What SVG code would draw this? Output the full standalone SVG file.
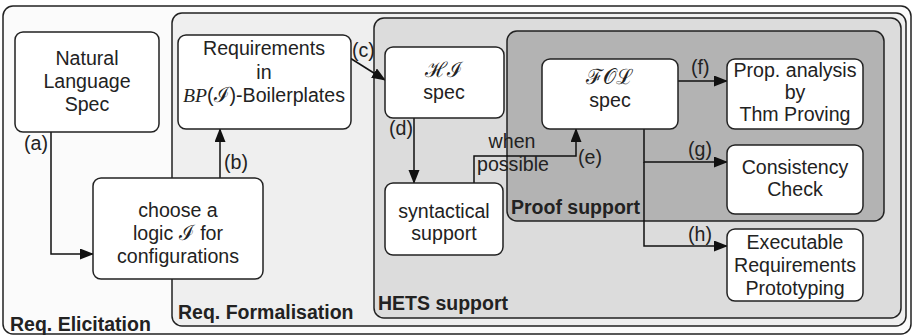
<svg xmlns="http://www.w3.org/2000/svg" width="914" height="336" viewBox="0 0 914 336">
<defs>
<marker id="arr" markerUnits="userSpaceOnUse" markerWidth="14" markerHeight="12" refX="13" refY="5.5" orient="auto">
<path d="M0,0 L14,5.5 L0,11 Z" fill="#111"/>
</marker>
<style>
.cont{stroke:#222;stroke-width:1.5}
.node{fill:#fff;stroke:#222;stroke-width:1.5}
.t{font-family:"Liberation Sans",Arial,sans-serif;font-size:19.6px;fill:#222;text-anchor:middle}
.l{font-family:"Liberation Sans",Arial,sans-serif;font-size:19.6px;fill:#222}
.b{font-family:"Liberation Sans",Arial,sans-serif;font-size:19.5px;font-weight:bold;fill:#222}
.m{font-family:"Liberation Serif","DejaVu Serif",serif;font-style:italic}
.s{font-family:"DejaVu Serif","Liberation Serif",serif;font-style:normal;font-size:21px}
.c{fill:none;stroke:#111;stroke-width:1.5}
</style>
</defs>
<g id="req-elicitation"><rect class="cont" x="3" y="6" width="908" height="328" rx="10" fill="#fbfbfb"/><text class="b" x="10" y="331">Req. Elicitation</text></g>
<g id="req-formalisation"><rect class="cont" x="172" y="13" width="734" height="313" rx="10" fill="#efefef"/><text class="b" x="178" y="319">Req. Formalisation</text></g>
<g id="hets-support"><rect class="cont" x="374" y="18" width="527" height="300" rx="10" fill="#dcdcdc"/><text class="b" x="378" y="310">HETS support</text></g>
<g id="proof-support"><rect class="cont" x="507" y="31" width="377" height="190" rx="10" fill="#b3b3b3"/><text class="b" x="511" y="214">Proof support</text></g>

<g id="connectors">
<path class="c" d="M51,132 V254 H93" marker-end="url(#arr)"/>
<path class="c" d="M220,178 V129" marker-end="url(#arr)"/>
<path class="c" d="M350,58 L385,80" marker-end="url(#arr)"/>
<path class="c" d="M414,118 V183" marker-end="url(#arr)"/>
<path class="c" d="M474,183 V156 H576 V129" marker-end="url(#arr)"/>
<path class="c" d="M678,81 H727" marker-end="url(#arr)"/>
<path class="c" d="M644,129 V162 H727" marker-end="url(#arr)"/>
<path class="c" d="M644,162 V246 H727" marker-end="url(#arr)"/>
<text class="l" x="24" y="150">(a)</text>
<text class="l" x="224" y="169">(b)</text>
<text class="l" x="352" y="57">(c)</text>
<text class="l" x="389" y="135">(d)</text>
<text class="t" x="512" y="148">when</text>
<text class="l" x="477" y="171">possible</text>
<text class="l" x="578" y="164">(e)</text>
<text class="l" x="691" y="74">(f)</text>
<text class="l" x="688" y="156">(g)</text>
<text class="l" x="688" y="241">(h)</text>
</g>

<g id="nl-spec"><rect class="node" x="15" y="32" width="144" height="100" rx="8"/>
<text class="t" x="87" y="65">Natural</text><text class="t" x="87" y="88">Language</text><text class="t" x="87" y="111">Spec</text></g>
<g id="requirements"><rect class="node" x="178" y="35" width="173" height="94" rx="8"/>
<text class="t" x="264" y="55">Requirements</text><text class="t" x="264" y="79">in</text>
<text class="t" x="264" y="102"><tspan class="m">BP</tspan>(<tspan class="s">ℐ</tspan>)-Boilerplates</text></g>
<g id="choose-logic"><rect class="node" x="93" y="178" width="170" height="101" rx="8"/>
<text class="t" x="178" y="217">choose a</text><text class="t" x="178" y="240">logic <tspan class="s">ℐ</tspan> for</text><text class="t" x="178" y="263">configurations</text></g>
<g id="hi-spec"><rect class="node" x="385" y="47" width="119" height="71" rx="8"/>
<text class="t" x="444" y="77"><tspan class="s">ℋℐ</tspan></text><text class="t" x="444" y="99">spec</text></g>
<g id="syntactical"><rect class="node" x="385" y="183" width="118" height="72" rx="8"/>
<text class="t" x="444" y="218">syntactical</text><text class="t" x="444" y="240">support</text></g>
<g id="fol-spec"><rect class="node" x="542" y="59" width="136" height="70" rx="8"/>
<text class="t" x="610" y="84"><tspan class="s">ℱ𝒪ℒ</tspan></text><text class="t" x="610" y="107">spec</text></g>
<g id="prop-analysis"><rect class="node" x="727" y="59" width="136" height="70" rx="8"/>
<text class="t" x="795" y="77">Prop. analysis</text><text class="t" x="795" y="99">by</text><text class="t" x="795" y="121">Thm Proving</text></g>
<g id="consistency"><rect class="node" x="727" y="145" width="136" height="69" rx="8"/>
<text class="t" x="795" y="174">Consistency</text><text class="t" x="795" y="196">Check</text></g>
<g id="executable"><rect class="node" x="727" y="229" width="136" height="72" rx="8"/>
<text class="t" x="795" y="249">Executable</text><text class="t" x="795" y="272">Requirements</text><text class="t" x="795" y="295">Prototyping</text></g>
</svg>
